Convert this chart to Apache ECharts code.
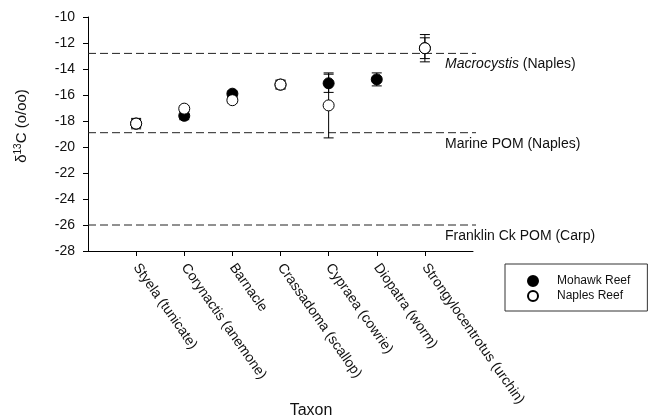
<!DOCTYPE html>
<html>
<head>
<meta charset="utf-8">
<script src="https://cdn.jsdelivr.net/npm/echarts@6/dist/echarts.min.js"></script>
<style>
  html, body { margin: 0; padding: 0; background: #fff; }
  #chart { width: 649px; height: 419px; }
</style>
</head>
<body>
<div id="chart"></div>
<script>
// Taxa along the x axis (placed at positions 1..7)
const categories = [
  'Styela (tunicate)',
  'Corynactis (anemone)',
  'Barnacle',
  'Crassadoma (scallop)',
  'Cypraea (cowrie)',
  'Diopatra (worm)',
  'Strongylocentrotus (urchin)'
];

// Mean δ13C and error (± half range) per taxon
const mohawkMean = [-18.2, -17.6, -15.9, -15.2, -15.1, -14.8, -12.4];
const mohawkErr  = [0.3, 0.3, 0.2, 0.3, 0.7, 0.5, 0.8];
const naplesMean = [-18.2, -17.05, -16.4, -15.2, -16.8, null, -12.4];
const naplesErr  = [0.4, 0.2, 0.2, 0.35, 2.5, null, 1.05];

// Source end-member reference levels
const refValues = [-12.8, -18.9, -26.0];
const refLabels = ['{i|Macrocystis} (Naples)', 'Marine POM (Naples)', 'Franklin Ck POM (Carp)'];

const yTicks = [-28, -26, -24, -22, -20, -18, -16, -14, -12, -10];

const FONT = 'Arial, "Liberation Sans", sans-serif';
const TEXT = '#111';

function points(means) {
  return means.map((m, i) => m == null ? null : [i + 1, m]).filter(Boolean);
}
function bars(means, errs) {
  return means.map((m, i) => m == null ? null : [i + 1, m - errs[i], m + errs[i]]).filter(Boolean);
}

function renderErrorBar(params, api) {
  const x = api.value(0);
  const lo = api.coord([x, api.value(1)]);
  const hi = api.coord([x, api.value(2)]);
  const hw = 5;
  const st = { stroke: '#000', lineWidth: 1 };
  return {
    type: 'group',
    children: [
      { type: 'line', shape: { x1: lo[0], y1: lo[1], x2: hi[0], y2: hi[1] }, style: st },
      { type: 'line', shape: { x1: lo[0] - hw, y1: lo[1], x2: lo[0] + hw, y2: lo[1] }, style: st },
      { type: 'line', shape: { x1: hi[0] - hw, y1: hi[1], x2: hi[0] + hw, y2: hi[1] }, style: st }
    ]
  };
}

function renderRef(params, api) {
  const v = api.value(0);
  const a = api.coord([0, v]);
  const b = api.coord([8, v]);
  return {
    type: 'group',
    children: [
      { type: 'line', shape: { x1: a[0], y1: a[1], x2: b[0] + 3, y2: b[1] },
        style: { stroke: '#222', lineWidth: 1, lineDash: [8, 4] } },
      { type: 'text', x: b[0] - 28, y: a[1] + 11,
        style: {
          text: refLabels[params.dataIndex],
          fill: TEXT, fontSize: 14, fontFamily: FONT,
          align: 'left', verticalAlign: 'middle',
          rich: { i: { fontStyle: 'italic', fontSize: 14, fontFamily: FONT, fill: TEXT } }
        } }
    ]
  };
}

const chart = echarts.init(document.getElementById('chart'), null, { renderer: 'canvas' });

chart.setOption({
  animation: false,
  backgroundColor: '#fff',
  grid: { left: 88, right: 176, top: 17, bottom: 168, containLabel: false },
  xAxis: {
    type: 'value', min: 0, max: 8, interval: 1,
    axisLine: { show: true, lineStyle: { color: '#000', width: 1 } },
    axisTick: { show: true, length: 5, inside: false, lineStyle: { color: '#000' },
                customValues: [1, 2, 3, 4, 5, 6, 7] },
    splitLine: { show: false },
    axisLabel: {
      customValues: [1, 2, 3, 4, 5, 6, 7],
      rotate: -55, margin: 14, color: TEXT, fontSize: 14, fontFamily: FONT,
      formatter: v => categories[v - 1] || ''
    }
  },
  yAxis: {
    type: 'value', min: yTicks[0], max: yTicks[yTicks.length - 1], interval: 2,
    axisLine: { show: true, lineStyle: { color: '#000', width: 1 } },
    axisTick: { show: true, length: 5, inside: false, lineStyle: { color: '#000' } },
    splitLine: { show: false },
    axisLabel: { color: TEXT, fontSize: 14, fontFamily: FONT, margin: 13 }
  },
  legend: {
    orient: 'vertical', left: 505, top: 264,
    padding: [10, 17, 8, 22],
    itemWidth: 38, itemHeight: 10, itemGap: 1,
    borderColor: '#333', borderWidth: 1,
    textStyle: { color: TEXT, fontSize: 12, fontFamily: FONT, lineHeight: 14 },
    data: ['Mohawk Reef', 'Naples Reef']
  },
  graphic: [
    { type: 'text', x: 22, y: 126, rotation: Math.PI / 2,
      style: {
        text: '{d|δ}{s|13}{d|C (o/oo)}',
        align: 'center', verticalAlign: 'middle', fill: TEXT,
        rich: {
          d: { fontSize: 15, fontFamily: FONT, fill: TEXT, lineHeight: 18 },
          s: { fontSize: 10, fontFamily: FONT, fill: TEXT, verticalAlign: 'top' }
        }
      } },
    { type: 'text', x: 311, y: 411,
      style: { text: 'Taxon', align: 'center', verticalAlign: 'middle',
               fill: TEXT, fontSize: 16, fontFamily: FONT } }
  ],
  series: [
    { type: 'custom', name: 'refs', renderItem: renderRef, data: refValues.map(v => [v]),
      encode: { y: 0 }, z: 1, silent: true, clip: false },
    { type: 'custom', name: 'mohawkErr', renderItem: renderErrorBar, data: bars(mohawkMean, mohawkErr),
      encode: { x: 0, y: [1, 2] }, z: 2, silent: true },
    { type: 'custom', name: 'naplesErr', renderItem: renderErrorBar, data: bars(naplesMean, naplesErr),
      encode: { x: 0, y: [1, 2] }, z: 2, silent: true },
    { type: 'scatter', name: 'Mohawk Reef', data: points(mohawkMean), symbol: 'circle', symbolSize: 11,
      itemStyle: { color: '#000', borderColor: '#000', borderWidth: 1, opacity: 1 }, z: 3 },
    { type: 'scatter', name: 'Naples Reef', data: points(naplesMean), symbol: 'circle', symbolSize: 11,
      itemStyle: { color: '#fff', borderColor: '#000', borderWidth: 1, opacity: 1 }, z: 4 }
  ]
});
</script>
</body>
</html>
